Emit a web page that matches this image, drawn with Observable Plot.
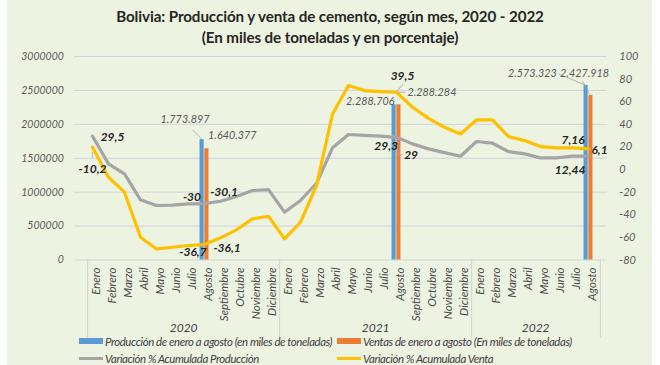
<!DOCTYPE html>
<html><head><meta charset="utf-8">
<script src="https://cdn.jsdelivr.net/npm/d3@7"></script>
<script src="https://cdn.jsdelivr.net/npm/@observablehq/plot@0.6"></script>
<style>
body{margin:0;background:#fff;}
#wrap{position:relative;width:660px;height:365px;overflow:hidden;background:#fff;font-family:"Lato",sans-serif;}
#panel{position:absolute;left:7px;top:0;width:645px;height:365px;background:#ECF3E0;}
#title{position:absolute;left:0;top:6px;width:660px;text-align:center;font-weight:bold;font-size:15.2px;line-height:21px;color:#262626;letter-spacing:-0.1px;}
#chart{position:absolute;left:0;top:48px;}
#chart svg text{font-style:italic;}
.leg{position:absolute;font-style:italic;font-size:11.4px;color:#404040;white-space:nowrap;line-height:13px;letter-spacing:-0.4px;}
.sw{position:absolute;}
</style></head>
<body>
<div id="wrap">
  <div id="panel"></div>
  <div id="title">Bolivia: Producción y venta de cemento, según mes, 2020 - 2022<br>(En miles de toneladas y en porcentaje)</div>
  <div id="chart"></div>
  <div id="legend"></div>
</div>
<script>
// ---- data ----
const meses = ["Enero","Febrero","Marzo","Abril","Mayo","Junio","Julio","Agosto","Septiembre","Octubre","Noviembre","Diciembre"];
const anios = ["2020","2021","2022"];
const mesesPorAnio = [12, 12, 8];
// Variación % acumulada (eje derecho)
const varProduccion = [29.5, 5.0, -3.8, -26.8, -31.8, -31.5, -30.4, -30.1, -28.0, -23.9, -18.6, -17.8,
                       -37.7, -27.4, -12.1, 19.2, 31.0, 30.2, 29.6, 28.5, 22.7, 18.3, 15.0, 11.8,
                       24.8, 23.3, 15.9, 13.9, 10.3, 10.3, 11.8, 11.8];
const varVenta = [19.7, -6.8, -20.0, -59.9, -70.2, -68.7, -67.2, -66.3, -60.4, -53.3, -43.6, -41.3,
                  -61.3, -46.6, -14.2, 49.2, 74.3, 69.9, 69.0, 68.4, 55.1, 45.3, 37.4, 31.5,
                  43.9, 43.9, 29.2, 25.6, 20.3, 19.2, 19.2, 18.3];
// Barras enero-agosto (eje izquierdo)
const barAnios = ["2020", "2021", "2022"];
const barMes = "Agosto";
const produccion = [1773897, 2288706, 2573323];
const ventas = [1640377, 2288284, 2427918];
const ticksIzq = [0, 500000, 1000000, 1500000, 2000000, 2500000, 3000000];
const ticksDer = [-80, -60, -40, -20, 0, 20, 40, 60, 80, 100];
const legendLabels = ["Producción de enero a agosto (en miles de toneladas)",
                      "Ventas de enero a agosto (En miles de toneladas)",
                      "Variación % Acumulada Producción",
                      "Variación % Acumulada Venta"];

// ---- derived ----
const cats = [];
anios.forEach((a, i) => meses.slice(0, mesesPorAnio[i]).forEach(m => cats.push({key: a + "-" + m, anio: a, mes: m})));
const W = 660, H = 317, mL = 73.4, mR = 53.2, mT = 8, mB = 105.5;
const step = (W - mL - mR) / cats.length;
const plotH = H - mT - mB;
const P_MIN = ticksDer[0], P_MAX = ticksDer[ticksDer.length - 1], L_MAX = ticksIzq[ticksIzq.length - 1];
const toL = p => (p - P_MIN) / (P_MAX - P_MIN) * L_MAX;
const fromL = v => v / L_MAX * (P_MAX - P_MIN) + P_MIN;

const serie = cats.map((c, i) => ({key: c.key, prod: toL(varProduccion[i]), venta: toL(varVenta[i])}));
const barras = barAnios.map((a, i) => ({key: a + "-" + barMes, prod: produccion[i], venta: ventas[i]}));
const yearLab = anios.map((a, i) => ({key: a + "-" + meses[Math.floor(mesesPorAnio[i] / 2)], anio: a}));
const sepKeys = anios.map(a => a + "-" + meses[0]);
const lastKey = cats[cats.length - 1].key;

const C_BLUE = "#5B9BD5", C_ORANGE = "#ED7D31", C_GRAY = "#A5A5A5", C_YELLOW = "#FFC000";
const axOff = 3.5;
const bw = 4.8;

const ptP = key => ({key, y: serie.find(d => d.key === key).prod});
const ptV = key => ({key, y: serie.find(d => d.key === key).venta});
const ptB = (key, f) => ({key, y: barras.find(d => d.key === key)[f]});
const lab = (pt, text, o) => Plot.text([pt], {x: "key", y: "y", text: () => text, fontWeight: "bold", fontSize: 12, fill: "#262626", fontStyle: "italic", ...o});
const vlab = (pt, text, o) => Plot.text([pt], {x: "key", y: "y", text: () => text, fontSize: 10.8, fill: "#595959", fontStyle: "italic", ...o});

// leader lines of data labels, anchored at data points through the scales
const leaderSpecs = [
  {pt: ptB("2020-Agosto", "prod"), path: [[-2.5, 0], [-11.5, -9]]},
  {pt: ptV("2021-Agosto"), path: [[1, -1], [7, -8]]},
  {pt: ptB("2021-Agosto", "venta"), path: [[1, -12], [9, -12]]},
  {pt: ptP("2021-Agosto"), path: [[1, 3], [1, 18], [6, 18]]},
  {pt: ptB("2022-Agosto", "prod"), path: [[-3, 0], [-30, -11]]},
  {pt: ptB("2022-Agosto", "venta"), path: [[1, -1], [-6, -14]]},
  {pt: ptV("2020-Enero"), path: [[0, 5], [0, 11]]}
];
function leaders(index, scales) {
  const g = d3.create("svg:g").attr("fill", "none").attr("stroke", "#a3a3a3").attr("stroke-width", 0.8);
  for (const s of leaderSpecs) {
    const x0 = scales.x(s.pt.key) + step / 2, y0 = scales.y(s.pt.y);
    g.append("path").attr("d", "M" + s.path.map(([dx, dy]) => (x0 + dx) + "," + (y0 + dy)).join("L"));
  }
  return g.node();
}

const chart = Plot.plot({
  width: W, height: H,
  marginLeft: mL, marginRight: mR, marginTop: mT, marginBottom: mB,
  style: {background: "transparent", fontFamily: '"Lato",sans-serif', overflow: "visible"},
  x: {type: "band", domain: cats.map(c => c.key), padding: 0, axis: null},
  y: {domain: [0, L_MAX], axis: null},
  marks: [
    Plot.gridY(ticksIzq, {stroke: "#d3d3e0", strokeOpacity: 1}),
    Plot.axisY(ticksIzq, {anchor: "left", tickSize: 0, tickPadding: 10, tickFormat: d => String(d), fill: "#595959", fontSize: 10.5, fontStyle: "italic", style: "letter-spacing:-0.5px"}),
    Plot.axisY(ticksDer.map(toL), {anchor: "right", tickSize: 0, tickPadding: 12, tickFormat: d => String(Math.round(fromL(d))), fill: "#595959", fontSize: 11, fontStyle: "italic"}),
    // category axis
    Plot.ruleX(sepKeys, {x: d => d, dx: -step / 2 + axOff, insetTop: plotH, insetBottom: -78, stroke: "#cfd2d4"}),
    Plot.ruleX([lastKey], {x: d => d, dx: step / 2 + axOff, insetTop: plotH, insetBottom: -78, stroke: "#cfd2d4"}),
    Plot.text(cats, {x: "key", text: "mes", frameAnchor: "bottom", rotate: -90, textAnchor: "end", lineAnchor: "middle", dy: 7.5, dx: axOff, fill: "#4d4d4d", fontSize: 11.5, fontStyle: "italic"}),
    Plot.text(yearLab, {x: "key", text: "anio", frameAnchor: "bottom", dy: 71.5, dx: -step / 2 + axOff, fill: "#404040", fontSize: 12, fontStyle: "italic"}),
    // bars
    Plot.barY(barras, {x: "key", y: "prod", fill: C_BLUE, insetLeft: step / 2 - bw, insetRight: step / 2}),
    Plot.barY(barras, {x: "key", y: "venta", fill: C_ORANGE, insetLeft: step / 2, insetRight: step / 2 - bw}),
    // lines
    Plot.line(serie, {x: "key", y: "prod", stroke: C_GRAY, strokeWidth: 3.2, curve: "linear"}),
    Plot.line(serie, {x: "key", y: "venta", stroke: C_YELLOW, strokeWidth: 3.2, curve: "linear"}),
    leaders,
    // value labels
    vlab(ptB("2020-Agosto", "prod"), "1.773.897", {dx: -19.5, dy: -20}),
    vlab(ptB("2020-Agosto", "venta"), "1.640.377", {dx: 3.6, dy: -13, textAnchor: "start"}),
    vlab(ptB("2021-Agosto", "prod"), "2.288.706", {dx: -2, dy: -3, textAnchor: "end"}),
    vlab(ptB("2021-Agosto", "venta"), "2.288.284", {dx: 11, dy: -12.7, textAnchor: "start"}),
    vlab(ptB("2022-Agosto", "prod"), "2.573.323", {dx: -31.7, dy: -11.7, textAnchor: "end"}),
    vlab(ptB("2022-Agosto", "venta"), "2.427.918", {dx: -28.4, dy: -21.6, textAnchor: "start"}),
    lab(ptP("2020-Enero"), "29,5", {dx: 20, dy: 1}),
    lab(ptV("2020-Enero"), "-10,2", {dx: 0, dy: 22}),
    lab(ptP("2020-Agosto"), "-30", {dx: -12.5, dy: -6}),
    lab(ptP("2020-Agosto"), "-30,1", {dx: 19.6, dy: -11}),
    lab(ptV("2020-Agosto"), "-36,7", {dx: -11.5, dy: 8}),
    lab(ptV("2020-Agosto"), "-36,1", {dx: 22.6, dy: 4}),
    lab(ptV("2021-Agosto"), "39,5", {dx: 6, dy: -16}),
    lab(ptP("2021-Agosto"), "29,3", {dx: -10.4, dy: 8.7}),
    lab(ptP("2021-Agosto"), "29", {dx: 14.6, dy: 17.7}),
    lab(ptV("2022-Agosto"), "7,16", {dx: -15.4, dy: -8.3}),
    lab(ptP("2022-Agosto"), "12,44", {dx: -18.4, dy: 14.3}),
    lab(ptV("2022-Agosto"), "6,1", {dx: 11, dy: 1.7})
  ]
});
document.getElementById("chart").appendChild(chart);

// legend (HTML)
const lg = document.getElementById("legend");
const legCfg = [
  {c: C_BLUE, kind: "rect", x: 79, y: 341},
  {c: C_ORANGE, kind: "rect", x: 337, y: 341},
  {c: C_GRAY, kind: "line", x: 79, y: 358.5},
  {c: C_YELLOW, kind: "line", x: 337, y: 358.5}
];
legCfg.forEach((o, i) => {
  const sw = document.createElement("div");
  sw.className = "sw";
  const h = o.kind === "rect" ? 6 : 3;
  Object.assign(sw.style, {left: o.x + "px", top: (o.y - h / 2) + "px", width: "24px", height: h + "px", background: o.c});
  lg.appendChild(sw);
  const t = document.createElement("div");
  t.className = "leg";
  t.textContent = legendLabels[i];
  Object.assign(t.style, {left: (o.x + 26) + "px", top: (o.y - 6.5) + "px"});
  lg.appendChild(t);
});
</script>
</body></html>
